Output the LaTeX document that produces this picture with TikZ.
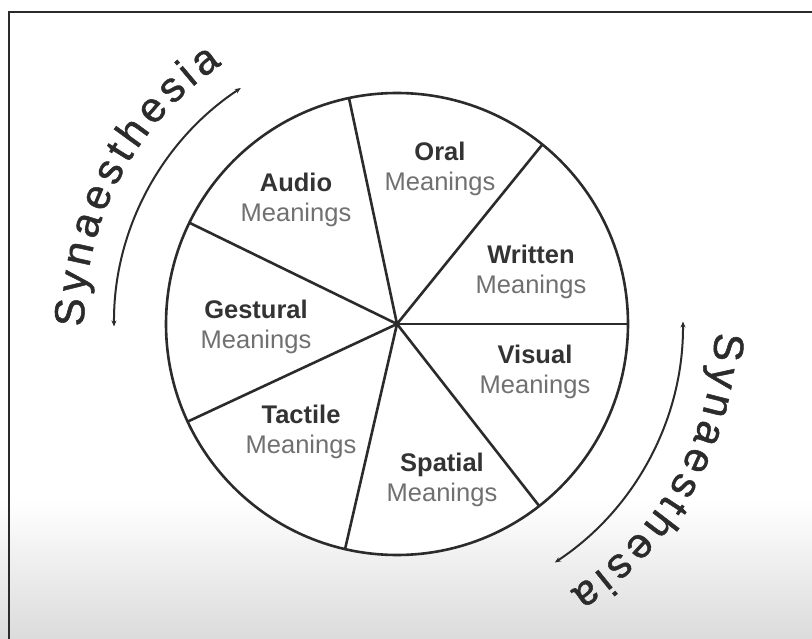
\documentclass[tikz,border=0pt]{standalone}
\usepackage{fontspec}
\setmainfont{Liberation Sans}
\newfontfamily\synfont[FakeBold=1.2]{Liberation Sans}
\usetikzlibrary{decorations.text,arrows.meta,calc}
\definecolor{ink}{HTML}{2B2B2B}
\definecolor{boldtxt}{HTML}{333333}
\definecolor{graytxt}{HTML}{707070}
\begin{document}
\begin{tikzpicture}[x=1pt,y=1pt,
  seg/.style={line width=2.6pt, draw=ink},
  lbl/.style={align=center, font=\fontsize{25.5}{30}\selectfont, text=graytxt, inner sep=0pt},
  syn/.style={decorate, decoration={text along path, text align={fit to path}, text color=ink,
      text={Synaesthesia}}},
  arcarrow/.style={line width=2pt, draw=ink, {Stealth[length=6pt,width=5pt]}-{Stealth[length=6pt,width=5pt]}}
]
\useasboundingbox (0,-639) rectangle (812,0);
\shade[top color=white, bottom color=black!14] (0,-500) rectangle (812,-639);
\draw[line width=2pt, ink] (9,-639) -- (9,-12) -- (812,-12);
\node[circle, draw=ink, line width=2.6pt, fill=white, minimum size=462pt, outer sep=0pt, inner sep=0pt] (wheel) at (397,-324) {};
\foreach \k [evaluate=\k as \ang using \k*360/7] in {0,...,6}
  \draw[seg] (wheel.center) -- (wheel.\ang);
\node[circle, fill=ink, minimum size=6pt, inner sep=0pt] (hub) at (wheel.center) {};
\node[lbl] (oral) at (440,-168.5) {{\color{boldtxt}\bfseries Oral}\\Meanings};
\node[lbl] (audio) at (296,-199.5) {{\color{boldtxt}\bfseries Audio}\\Meanings};
\node[lbl] (gestural) at (256,-327) {{\color{boldtxt}\bfseries Gestural}\\Meanings};
\node[lbl] (tactile) at (301,-432) {{\color{boldtxt}\bfseries Tactile}\\Meanings};
\node[lbl] (spatial) at (442,-480) {{\color{boldtxt}\bfseries Spatial}\\Meanings};
\node[lbl] (visual) at (535,-372) {{\color{boldtxt}\bfseries Visual}\\Meanings};
\node[lbl] (written) at (531,-271.5) {{\color{boldtxt}\bfseries Written}\\Meanings};
\begingroup
\synfont\fontsize{42}{44}\selectfont
\path[syn] ($(wheel.center)+(180.5:313)$) arc[start angle=180.5, end angle=124, radius=313];
\path[syn] ($(wheel.center)+(-1.5:318)$) arc[start angle=-1.5, end angle=-57, radius=318];
\endgroup
\draw[arcarrow] ($(wheel.center)+(123.5:283)$) arc[start angle=123.5, end angle=180.5, radius=283];
\draw[arcarrow] ($(wheel.center)+(0.5:286)$) arc[start angle=0.5, end angle=-56.5, radius=286];
\end{tikzpicture}
\end{document}
